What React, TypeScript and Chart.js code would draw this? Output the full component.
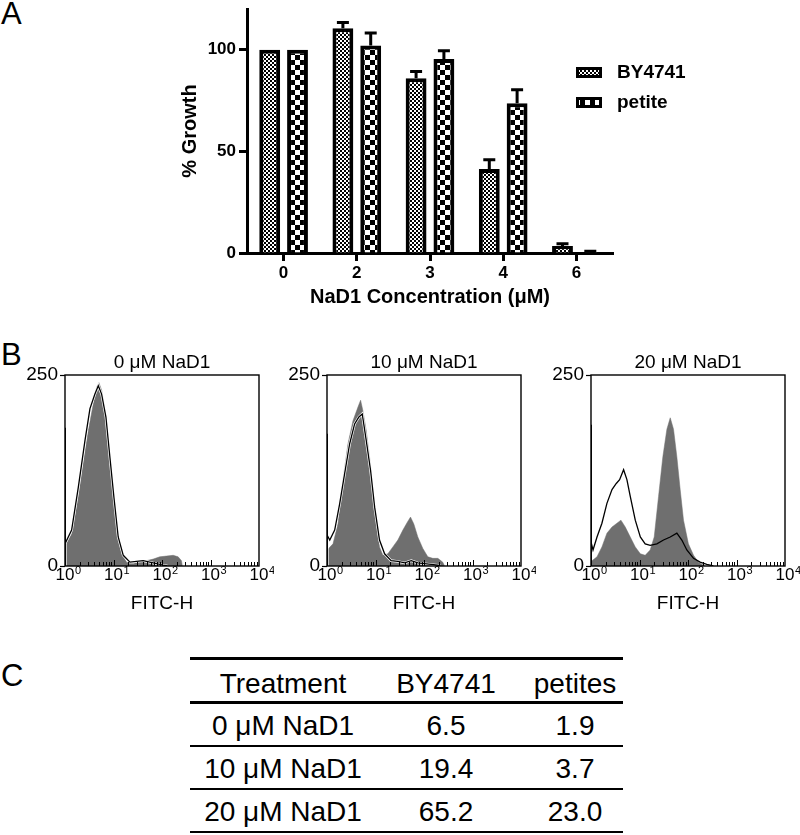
import React, { useEffect, useRef } from "react";
import { Chart, registerables } from "chart.js";

Chart.register(...registerables);

const FONT = "'Liberation Sans', Arial, Helvetica, sans-serif";

// ---------- Panel A data ----------
const concentrations = ["0", "2", "3", "4", "6"];
const by4741Growth = [100, 110.5, 85.9, 41.3, 3.5];
const by4741Sem = [0, 2.9, 3.4, 4.5, 1.0];
const petiteGrowth = [100, 102.1, 95.4, 73.7, 0.5];
const petiteSem = [0, 6.1, 4.1, 6.6, 0.3];
const growthTicks = [0, 50, 100];
const seriesNames = ["BY4741", "petite"];

// ---------- Panel B data ----------
const decadeValues = [1, 10, 100, 1000, 10000];
const decadeExponents = ["0", "1", "2", "3", "4"];
const countTicks = [0, 250];
const panelTitles = ["0 μM NaD1", "10 μM NaD1", "20 μM NaD1"];

// 0 uM NaD1
const gray0X = [1, 1.08, 1.37, 1.88, 2.38, 3.02, 3.83, 4.49, 5.0, 5.7, 6.65, 7.8, 9.1, 10.7, 12.5, 14.7, 18.6, 25.5, 35, 48, 66, 90, 124, 170, 215, 252, 263];
const gray0Y = [28, 30, 42, 90, 134, 177, 212, 234, 240, 230, 203, 164, 121, 77, 38, 16, 5, 3, 6, 7, 9, 12, 13, 14, 12, 7, 0];
const line0X = [1, 1, 1.03, 1.37, 1.88, 2.58, 3.27, 4.14, 4.86, 5.69, 6.98, 8.44, 10.2, 12.5, 15.9, 21.8, 29.9, 41, 56, 77, 105, 130];
const line0Y = [0, 181, 30, 47, 103, 164, 206, 225, 236, 225, 195, 142, 90, 38, 14, 5, 6, 7, 5, 3, 1, 0];

// 10 uM NaD1
const gray10X = [1, 1.08, 1.33, 1.68, 2.13, 2.71, 3.43, 4.35, 4.93, 5.51, 6.45, 7.55, 8.85, 10.4, 12.1, 14.2, 18, 22.8, 28.9, 36.7, 45, 52.7, 61.7, 74.6, 94.6, 120, 152, 193, 244, 265];
const gray10Y = [20, 23, 29, 55, 112, 160, 190, 208, 217, 203, 177, 142, 99, 55, 25, 14, 16, 25, 34, 47, 57, 64, 55, 38, 23, 12, 10, 10, 5, 0];
const line10X = [1, 1, 1.03, 1.14, 1.44, 1.82, 2.31, 2.93, 3.71, 4.55, 5.33, 6.45, 7.92, 9.6, 12.1, 15.4, 21, 28.9, 39.8, 54.6, 74.6, 102, 140, 193, 220];
const line10Y = [0, 173, 40, 34, 47, 81, 121, 160, 186, 195, 199, 164, 125, 77, 34, 16, 7, 6, 4, 7, 4, 3, 2, 1, 0];

// 20 uM NaD1
const gray20X = [1, 1.05, 1.33, 1.68, 2.13, 2.71, 3.43, 4.14, 5.09, 6.45, 8.18, 10.4, 13.1, 16.6, 20.1, 24.7, 30.3, 36.7, 43, 50.3, 58.9, 69, 80.8, 102, 130, 164, 208, 225];
const gray20Y = [5, 7, 12, 25, 43, 51, 56, 60, 51, 38, 25, 16, 14, 21, 38, 91, 143, 179, 194, 179, 143, 100, 60, 29, 14, 5, 1, 0];
const line20X = [1, 1, 1.03, 1.1, 1.33, 1.68, 2.13, 2.71, 3.32, 3.89, 4.7, 5.5, 6.45, 8.18, 10.4, 13.1, 16.6, 22.8, 31.3, 43, 58.9, 74.6, 94.6, 130, 178, 244, 334];
const line20Y = [0, 185, 30, 21, 38, 56, 82, 100, 108, 113, 126, 113, 91, 60, 38, 29, 27, 29, 34, 38, 43, 34, 21, 10, 5, 2, 0];

// ---------- Panel C data ----------
const tableHeader = ["Treatment", "BY4741", "petites"];
const tableTreatments = ["0 μM NaD1", "10 μM NaD1", "20 μM NaD1"];
const tableBY4741 = ["6.5", "19.4", "65.2"];
const tablePetites = ["1.9", "3.7", "23.0"];

function checker(ctx: CanvasRenderingContext2D, cell: number) {
  const c = document.createElement("canvas");
  c.width = cell * 2;
  c.height = cell * 2;
  const g = c.getContext("2d")!;
  g.fillStyle = "#fff";
  g.fillRect(0, 0, cell * 2, cell * 2);
  g.fillStyle = "#000";
  g.fillRect(0, 0, cell, cell);
  g.fillRect(cell, cell, cell, cell);
  return ctx.createPattern(c, "repeat")!;
}

const errorBarPlugin = {
  id: "errorBars",
  afterDatasetsDraw(chart: any) {
    const { ctx } = chart;
    const yScale = chart.scales.y;
    chart.data.datasets.forEach((ds: any, i: number) => {
      const meta = chart.getDatasetMeta(i);
      const errs = ds.errors || [];
      meta.data.forEach((bar: any, j: number) => {
        const e = errs[j];
        if (!e) return;
        const v = ds.data[j];
        const yTop = yScale.getPixelForValue(v + e);
        const yBar = yScale.getPixelForValue(v);
        ctx.save();
        ctx.strokeStyle = "#000";
        ctx.lineWidth = 3;
        ctx.beginPath();
        ctx.moveTo(bar.x, yBar);
        ctx.lineTo(bar.x, yTop);
        ctx.moveTo(bar.x - 6, yTop);
        ctx.lineTo(bar.x + 6, yTop);
        ctx.stroke();
        ctx.restore();
      });
    });
  },
};

const legendPlugin = {
  id: "patternLegend",
  afterDraw(chart: any) {
    const { ctx, chartArea } = chart;
    const x0 = chartArea.right - 37;
    chart.data.datasets.forEach((ds: any, i: number) => {
      const top = 67 + i * 30;
      ctx.save();
      ctx.fillStyle = "#000";
      ctx.fillRect(x0, top, 26, 11);
      ctx.fillStyle = ds.backgroundColor;
      ctx.fillRect(x0 + 3, top + 3, 20, 5);
      ctx.fillStyle = "#000";
      ctx.font = `bold 19px ${FONT}`;
      ctx.textBaseline = "middle";
      ctx.textAlign = "left";
      ctx.fillText(ds.label, x0 + 41, top + 6);
      ctx.restore();
    });
  },
};

const framePlugin = {
  id: "frame",
  afterDatasetsDraw(chart: any) {
    const { ctx, chartArea } = chart;
    const xs = chart.scales.x;
    ctx.save();
    ctx.strokeStyle = "#000";
    ctx.lineWidth = 1;
    ctx.beginPath();
    for (let d = 0; d < 4; d++) {
      for (let m = 1; m <= 9; m++) {
        const px = Math.round(xs.getPixelForValue(m * Math.pow(10, d))) + 0.5;
        ctx.moveTo(px, chartArea.bottom);
        ctx.lineTo(px, chartArea.bottom - (m === 1 ? 6 : 4));
      }
    }
    ctx.stroke();
    ctx.lineWidth = 1.4;
    ctx.strokeRect(chartArea.left, chartArea.top, chartArea.right - chartArea.left, chartArea.bottom - chartArea.top);
    ctx.restore();
  },
};

const panelTitlePlugin = {
  id: "panelTitle",
  afterDraw(chart: any, _args: any, opts: any) {
    const { ctx, chartArea } = chart;
    ctx.save();
    ctx.fillStyle = "#000";
    ctx.font = `19px ${FONT}`;
    ctx.textAlign = "center";
    ctx.textBaseline = "middle";
    ctx.fillText(opts.text, (chartArea.left + chartArea.right) / 2, chartArea.top - 12);
    ctx.restore();
  },
};

// draws "10" with a raised exponent under each decade tick of the log axis
const decadeLabelPlugin = {
  id: "decadeLabels",
  afterDraw(chart: any) {
    const { ctx, chartArea } = chart;
    const xs = chart.scales.x;
    ctx.save();
    ctx.fillStyle = "#000";
    ctx.textBaseline = "alphabetic";
    decadeValues.forEach((v, i) => {
      const px = xs.getPixelForValue(v);
      ctx.font = `17px ${FONT}`;
      const w = ctx.measureText("10").width;
      ctx.textAlign = "left";
      ctx.fillText("10", px - w / 2, chartArea.bottom + 13.5);
      ctx.font = `11px ${FONT}`;
      ctx.fillText(decadeExponents[i], px + w / 2 + 0.5, chartArea.bottom + 8);
    });
    ctx.restore();
  },
};

function BarPanel() {
  const ref = useRef<HTMLCanvasElement>(null);
  useEffect(() => {
    const canvas = ref.current!;
    const ctx = canvas.getContext("2d")!;
    const axisGrid = {
      display: true,
      drawOnChartArea: false,
      drawTicks: true,
      tickLength: 8,
      tickWidth: 3,
      tickColor: "#000",
      offset: false,
    };
    const chart = new Chart(canvas, {
      type: "bar",
      data: {
        labels: concentrations,
        datasets: [
          {
            label: seriesNames[0],
            data: by4741Growth,
            errors: by4741Sem,
            backgroundColor: checker(ctx, 2),
            borderColor: "#000",
            borderWidth: 4,
            borderSkipped: "start",
            categoryPercentage: 0.76,
            barPercentage: 0.75,
          } as any,
          {
            label: seriesNames[1],
            data: petiteGrowth,
            errors: petiteSem,
            backgroundColor: checker(ctx, 5),
            borderColor: "#000",
            borderWidth: 4,
            borderSkipped: "start",
            categoryPercentage: 0.76,
            barPercentage: 0.75,
          } as any,
        ],
      },
      options: {
        responsive: false,
        animation: false,
        layout: { padding: { left: 0, top: 9, right: 97, bottom: 6 } },
        plugins: { legend: { display: false }, tooltip: { enabled: false } },
        scales: {
          x: {
            grid: axisGrid,
            border: { display: true, color: "#000", width: 3 },
            ticks: { color: "#000", font: { family: FONT, size: 17, weight: "bold" }, padding: 2, maxRotation: 0 },
            title: {
              display: true,
              text: "NaD1 Concentration (μM)",
              color: "#000",
              font: { family: FONT, size: 20, weight: "bold" },
              padding: { top: 0, bottom: 0 },
            },
            afterFit: (s: any) => {
              s.height = 56;
            },
          },
          y: {
            min: 0,
            max: 120,
            grid: axisGrid,
            border: { display: true, color: "#000", width: 3 },
            ticks: { color: "#000", font: { family: FONT, size: 17, weight: "bold" }, padding: 3, includeBounds: false },
            afterBuildTicks: (s: any) => {
              s.ticks = growthTicks.map((v) => ({ value: v }));
            },
            title: {
              display: true,
              text: "% Growth",
              color: "#000",
              font: { family: FONT, size: 20, weight: "bold" },
              padding: { top: 28, bottom: 0 },
            },
            afterFit: (s: any) => {
              s.width = 97;
              s.paddingTop = 0;
              s.paddingBottom = 0;
            },
          },
        },
      } as any,
      plugins: [errorBarPlugin, legendPlugin],
    });
    return () => chart.destroy();
  }, []);
  return (
    <canvas
      ref={ref}
      width={560}
      height={315}
      style={{ position: "absolute", left: 150, top: 0, width: 560, height: 315 }}
    />
  );
}

function pts(xs: number[], ys: number[]) {
  return xs.map((x, i) => ({ x, y: ys[i] }));
}

function HistPanel(props: {
  left: number;
  title: string;
  grayX: number[];
  grayY: number[];
  lineX: number[];
  lineY: number[];
  halo: number;
}) {
  const ref = useRef<HTMLCanvasElement>(null);
  useEffect(() => {
    const canvas = ref.current!;
    const lineData = pts(props.lineX, props.lineY);
    const datasets: any[] = [
      { label: "control", data: lineData, borderColor: "#000", borderWidth: 1.3, pointRadius: 0, fill: false, tension: 0, order: 0 },
      {
        label: "treated",
        data: pts(props.grayX, props.grayY),
        borderColor: "#6f6f6f",
        borderWidth: 0.5,
        backgroundColor: "#6f6f6f",
        pointRadius: 0,
        fill: "origin",
        tension: 0,
        order: 2,
      },
    ];
    if (props.halo > 0) {
      datasets.push({ label: "halo", data: lineData, borderColor: "#fff", borderWidth: props.halo, pointRadius: 0, fill: false, tension: 0, order: 1 });
    }
    const chart = new Chart(canvas, {
      type: "line",
      data: { datasets },
      options: {
        responsive: false,
        animation: false,
        layout: { padding: { left: 0, top: 35, right: 15, bottom: 10 } },
        plugins: {
          legend: { display: false },
          tooltip: { enabled: false },
          title: { display: false },
          panelTitle: { text: props.title },
        },
        scales: {
          x: {
            type: "logarithmic",
            min: 1,
            max: 10000,
            grid: { display: false, drawTicks: false },
            border: { display: false },
            ticks: { display: false },
            afterBuildTicks: (s: any) => {
              s.ticks = decadeValues.map((v) => ({ value: v }));
            },
            title: {
              display: true,
              text: "FITC-H",
              color: "#000",
              font: { family: FONT, size: 19 },
              padding: { top: 0, bottom: 0 },
            },
            afterFit: (s: any) => {
              s.height = 49;
              s.paddingLeft = 0;
              s.paddingRight = 0;
            },
          },
          y: {
            min: 0,
            max: 250,
            grid: { display: true, drawOnChartArea: false, drawTicks: true, tickLength: 5, tickWidth: 1.2, tickColor: "#000" },
            border: { display: false },
            ticks: { color: "#000", font: { family: FONT, size: 19 }, padding: 2 },
            afterBuildTicks: (s: any) => {
              s.ticks = countTicks.map((v) => ({ value: v }));
            },
            afterFit: (s: any) => {
              s.width = 60;
              s.paddingTop = 0;
              s.paddingBottom = 0;
            },
          },
        },
      } as any,
      plugins: [framePlugin, panelTitlePlugin, decadeLabelPlugin],
    });
    return () => chart.destroy();
  }, []);
  return (
    <canvas
      ref={ref}
      width={269}
      height={285}
      style={{ position: "absolute", left: props.left, top: 340, width: 269, height: 285 }}
    />
  );
}

function Table() {
  const colCenters = [283, 446, 575];
  const rowCenters = [684, 726, 769, 812];
  const rules = [
    { y: 658.5, h: 3.5 },
    { y: 702, h: 3 },
    { y: 746, h: 2 },
    { y: 789, h: 2 },
    { y: 832, h: 2 },
  ];
  const rows = [tableHeader, ...tableTreatments.map((t, i) => [t, tableBY4741[i], tablePetites[i]])];
  const cells: any[] = [];
  rows.forEach((row, r) =>
    row.forEach((txt, c) =>
      cells.push(
        <div
          key={`${r}-${c}`}
          style={{
            position: "absolute",
            left: colCenters[c] - 110,
            width: 220,
            top: rowCenters[r] - 20,
            height: 40,
            lineHeight: "40px",
            textAlign: "center",
            fontSize: 28,
            fontFamily: FONT,
            color: "#000",
            whiteSpace: "nowrap",
          }}
        >
          {txt}
        </div>
      )
    )
  );
  return (
    <>
      {rules.map((l, i) => (
        <div
          key={`rule${i}`}
          style={{ position: "absolute", left: 190, width: 433, top: l.y - l.h / 2, height: l.h, background: "#000" }}
        />
      ))}
      {cells}
    </>
  );
}

function PanelLabel(props: { text: string; top: number }) {
  return (
    <div
      style={{
        position: "absolute",
        left: 1,
        top: props.top,
        fontSize: 31,
        lineHeight: "31px",
        fontFamily: FONT,
        color: "#000",
      }}
    >
      {props.text}
    </div>
  );
}

export default function App() {
  return (
    <div
      style={{
        position: "absolute",
        left: 0,
        top: 0,
        width: 800,
        height: 835,
        overflow: "hidden",
        background: "#fff",
      }}
    >
      <PanelLabel text="A" top={-2} />
      <PanelLabel text="B" top={339} />
      <PanelLabel text="C" top={660} />
      <BarPanel />
      <HistPanel left={5} title={panelTitles[0]} grayX={gray0X} grayY={gray0Y} lineX={line0X} lineY={line0Y} halo={2.6} />
      <HistPanel left={267} title={panelTitles[1]} grayX={gray10X} grayY={gray10Y} lineX={line10X} lineY={line10Y} halo={2.6} />
      <HistPanel left={531} title={panelTitles[2]} grayX={gray20X} grayY={gray20Y} lineX={line20X} lineY={line20Y} halo={0} />
      <Table />
    </div>
  );
}
